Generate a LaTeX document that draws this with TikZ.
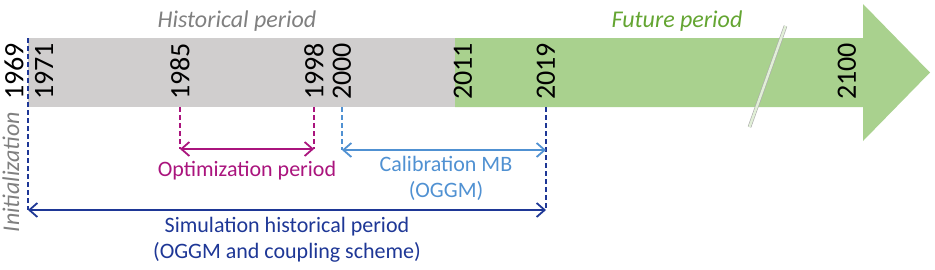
\documentclass[tikz,border=0pt]{standalone}
\usepackage{fontspec}
\setmainfont{Carlito}
\usetikzlibrary{arrows.meta}
\definecolor{histgray}{RGB}{208,206,206}
\definecolor{futgreen}{RGB}{169,209,142}
\definecolor{futtext}{RGB}{100,165,50}
\definecolor{labgray}{RGB}{128,128,128}
\definecolor{optmag}{RGB}{170,20,125}
\definecolor{calblue}{RGB}{80,145,210}
\definecolor{simblue}{RGB}{30,55,150}

\begin{document}
\begin{tikzpicture}[x=1pt, y=-1pt,
	every node/.style={inner sep=0pt, font=\fontsize{22}{26}\selectfont},
	year/.style={rotate=90, anchor=west, font=\fontsize{28}{30}\selectfont},
	period/.style={font=\fontsize{24}{28}\selectfont\itshape},
	tick/.style={dash pattern=on 5pt off 3pt, line width=1.4pt},
	span/.style={line width=1.8pt, {Straight Barb[length=8pt,width=14pt]}-{Straight Barb[length=8pt,width=14pt]}}]
	\useasboundingbox (0,0) rectangle (935,269);
	% time bar
	\fill[histgray] (28,38) rectangle (455,107);
	\fill[futgreen] (455,38) -- (863,38) -- (863,4) -- (930,72.5) -- (863,141) -- (863,107) -- (455,107) -- cycle;
	\draw[gray!65, line width=0.6pt, double=futgreen!35!white, double distance=2.4pt] (785.5,26) -- (749.5,127);
	% years
	\node[year] (y1969) at (14,100) {1969};
	\node[year] (y1971) at (44,100) {1971};
	\node[year] (y1985) at (180,100) {1985};
	\node[year] (y1998) at (314,100) {1998};
	\node[year] (y2000) at (342,100) {2000};
	\node[year] (y2011) at (463,100) {2011};
	\node[year] (y2019) at (546,100) {2019};
	\node[year] (y2100) at (847,100) {2100};
	\node[period, text=labgray] (hist) at (237,21) {Historical period};
	\node[period, text=futtext] (fut) at (677,21) {Future period};
	\node[period, text=labgray, rotate=90] (init) at (11,172) {Initialization};
	% tick points
	\coordinate (b1969) at (28,38);   \coordinate (s1969) at (28,210);
	\coordinate (b1985) at (180,107); \coordinate (o1985) at (180,149);
	\coordinate (b1998) at (314,107); \coordinate (o1998) at (314,149);
	\coordinate (b2000) at (342,107); \coordinate (c2000) at (342,150);
	\coordinate (b2019) at (546,107); \coordinate (c2019) at (546,150); \coordinate (s2019) at (546,210);
	\draw[tick, optmag] (b1985) -- (o1985);
	\draw[tick, optmag] (b1998) -- (o1998);
	\draw[tick, calblue] (b2000) -- (c2000);
	\draw[tick, simblue] (b1969) -- (s1969);
	\draw[tick, simblue] (b2019) -- (s2019);
	% periods
	\draw[span, optmag] (o1985) -- (o1998);
	\draw[span, calblue] (c2000) -- (c2019);
	\draw[span, simblue] (s1969) -- (s2019);
	\node[text=optmag] (optlab) at (247,171) {Optimization period};
	\node[text=calblue, align=center] (callab) at (446,178) {Calibration MB\\(OGGM)};
	\node[text=simblue, align=center] (simlab) at (287,240) {Simulation historical period\\(OGGM and coupling scheme)};
\end{tikzpicture}
\end{document}
